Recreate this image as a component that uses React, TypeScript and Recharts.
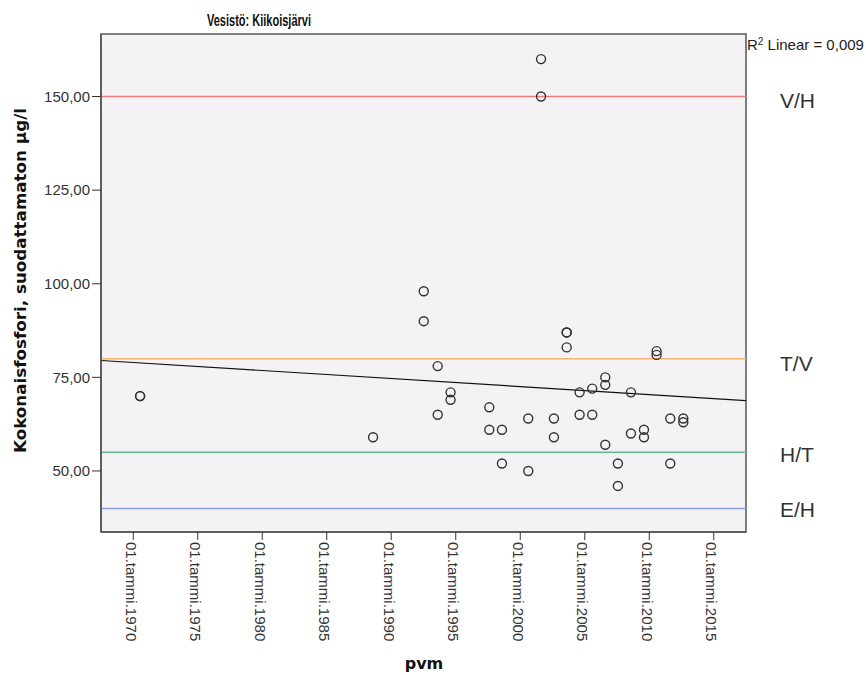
import { ScatterChart, Scatter, XAxis, YAxis, ReferenceLine, ReferenceArea, CartesianGrid } from "recharts"

// sample dates as decimal years, total phosphorus (µg/l)
const sampleYears = [
  1970.53, 1970.53, 1988.59, 1992.52, 1992.52, 1993.6, 1993.6, 1994.6, 1994.6, 1997.6, 1997.6,
  1998.58, 1998.58, 2000.62, 2000.62, 2001.61, 2001.61, 2002.61, 2002.61, 2003.6, 2003.6, 2003.6,
  2004.6, 2004.6, 2005.58, 2005.58, 2006.59, 2006.59, 2006.59, 2007.57, 2007.57, 2008.58, 2008.58,
  2009.59, 2009.59, 2010.57, 2010.57, 2011.63, 2011.63, 2012.64, 2012.64,
]
const phosphorus = [
  70, 70, 59, 98, 90, 78, 65, 71, 69, 67, 61,
  61, 52, 64, 50, 160, 150, 64, 59, 87, 87, 83,
  71, 65, 72, 65, 75, 73, 57, 52, 46, 71, 60,
  61, 59, 82, 81, 64, 52, 64, 63,
]

const yearTicks = [1970, 1975, 1980, 1985, 1990, 1995, 2000, 2005, 2010, 2015]
const valueTicks = [50, 75, 100, 125, 150]

const classLimits = [150, 80, 55, 40]
const classLabels = ["V/H", "T/V", "H/T", "E/H"]
const classColors = ["#F07B7D", "#F9B46E", "#62B98C", "#8B9BDC"]

const trendLine = [
  { x: 1967.5, y: 79.5 },
  { x: 2017.5, y: 68.8 },
]

const X_DOMAIN: [number, number] = [1967.5, 2017.5]
const Y_DOMAIN: [number, number] = [33.7, 166.7]
const labelShift = [4, 5, 2, 1]

const sansFont = "'Liberation Sans', Arial, sans-serif"
const narrowFont = "'Liberation Sans Narrow', 'Liberation Sans', Arial, sans-serif"
const boldFont = "'DejaVu Sans', Verdana, sans-serif"

const points = sampleYears.map((x, i) => ({ x, y: phosphorus[i] }))

function OpenCircle(props: any) {
  const { cx, cy } = props
  if (cx == null || cy == null) return null
  return <circle cx={cx} cy={cy} r={4.5} fill="none" stroke="#333" strokeWidth={1.4} />
}

function DateTick(props: any) {
  const { x, y, payload } = props
  return (
    <g transform={`translate(${x - 2.5},${y})`}>
      <text
        transform="rotate(90)"
        x={0}
        y={0}
        dy="0.35em"
        textAnchor="start"
        fill="#333"
        fontSize={15}
        fontFamily={sansFont}
      >
        {`01.tammi.${payload.value}`}
      </text>
    </g>
  )
}

function ClassLabel(props: any) {
  const { viewBox, text, shift } = props
  if (!viewBox) return null
  return (
    <text
      x={viewBox.x + viewBox.width + 34}
      y={viewBox.y + shift}
      dominantBaseline="central"
      fill="#333"
      fontSize={21}
      fontFamily={narrowFont}
    >
      {text}
    </text>
  )
}

export default function App() {
  return (
    <div style={{ position: "absolute", left: 0, top: 0, width: 866, height: 675, background: "#fff" }}>
      <ScatterChart width={866} height={675} margin={{ top: 34, right: 120, bottom: 0, left: 0 }}>
        <CartesianGrid horizontal={false} vertical={false} fill="#F5F2F6" />
        <XAxis
          type="number"
          dataKey="x"
          domain={X_DOMAIN}
          ticks={yearTicks}
          allowDataOverflow
          height={143}
          tickSize={8}
          tickLine={{ stroke: "#333" }}
          axisLine={{ stroke: "#555", strokeWidth: 1.5 }}
          tick={<DateTick />}
          interval={0}
        />
        <YAxis
          type="number"
          dataKey="y"
          domain={Y_DOMAIN}
          ticks={valueTicks}
          allowDataOverflow
          width={101}
          tickSize={9}
          tickLine={{ stroke: "#333" }}
          axisLine={{ stroke: "#555", strokeWidth: 1.5 }}
          tick={{ fill: "#333", fontSize: 15, fontFamily: sansFont }}
          tickFormatter={(v: number) => v.toFixed(2).replace(".", ",")}
          interval={0}
        />
        {classLimits.map((limit, i) => (
          <ReferenceLine
            key={classLabels[i]}
            y={limit}
            stroke={classColors[i]}
            strokeWidth={1.5}
            label={<ClassLabel text={classLabels[i]} shift={labelShift[i]} />}
          />
        ))}
        <ReferenceLine segment={trendLine} stroke="#111" strokeWidth={1.2} />
        <ReferenceArea
          x1={X_DOMAIN[0]}
          x2={X_DOMAIN[1]}
          y1={Y_DOMAIN[0]}
          y2={Y_DOMAIN[1]}
          fill="none"
          stroke="#555"
          strokeWidth={1.5}
        />
        <Scatter data={points} shape={<OpenCircle />} isAnimationActive={false} />
      </ScatterChart>
      <svg
        width={866}
        height={675}
        style={{ position: "absolute", left: 0, top: 0, pointerEvents: "none" }}
      >
        <text
          x={207}
          y={26}
          textAnchor="start"
          fontSize={17}
          fontWeight="bold"
          fontFamily={narrowFont}
          fill="#111"
          textLength={104}
          lengthAdjust="spacingAndGlyphs"
        >
          Vesistö: Kiikoisjärvi
        </text>
        <text
          transform="translate(26,453) rotate(-90)"
          textAnchor="start"
          fontSize={16}
          fontWeight="bold"
          fontFamily={boldFont}
          fill="#111"
          textLength={345}
          lengthAdjust="spacingAndGlyphs"
        >
          Kokonaisfosfori, suodattamaton µg/l
        </text>
        <text
          x={424}
          y={663}
          textAnchor="middle"
          dominantBaseline="central"
          fontSize={16}
          fontWeight="bold"
          fontFamily={boldFont}
          fill="#111"
        >
          pvm
        </text>
        <text x={747} y={50} fontSize={15} fontFamily={sansFont} fill="#222">
          R
          <tspan dy={-5} fontSize={10}>2</tspan>
          <tspan dy={5}> Linear = 0,009</tspan>
        </text>
      </svg>
    </div>
  )
}
